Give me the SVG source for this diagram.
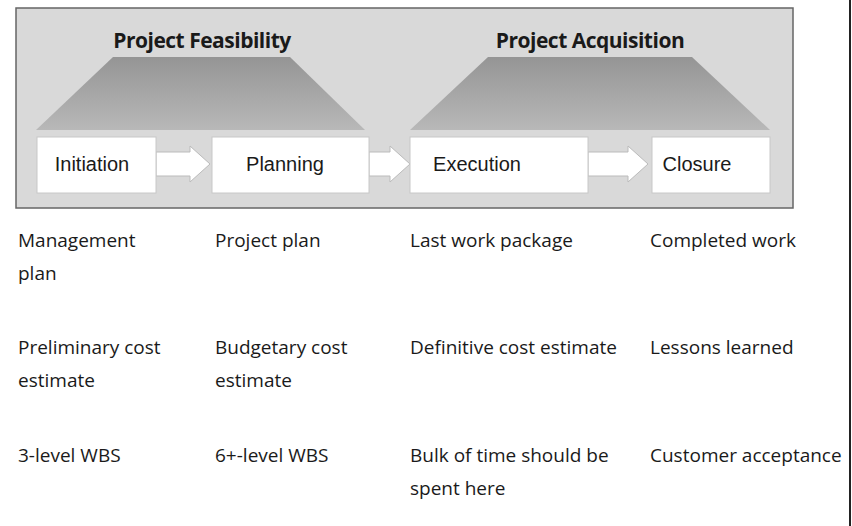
<svg xmlns="http://www.w3.org/2000/svg" width="852" height="526" viewBox="0 0 852 526">
<defs>
<linearGradient id="tg" x1="0" y1="0" x2="0" y2="1">
<stop offset="0" stop-color="#959595"/><stop offset="1" stop-color="#b8b8b8"/>
</linearGradient>
</defs>
<style>
.box{fill:#fff;stroke:#c8c8c8;stroke-width:1}
.bl{font-family:"Liberation Sans",Arial,sans-serif;font-size:20px;fill:#1a1a1a;text-anchor:middle}
.hd{font-family:"Open Sans","Noto Sans",sans-serif;font-size:21px;font-weight:bold;fill:#1a1a1a;text-anchor:middle;letter-spacing:-0.5px}
.t{font-family:"Open Sans","Noto Sans",sans-serif;font-size:19px;fill:#1a1a1a}
.arr{fill:#fff;stroke:#bbb;stroke-width:1}
</style>
<rect width="852" height="526" fill="#fff"/>
<line x1="850" y1="0" x2="850" y2="526" stroke="#222" stroke-width="2"/>
<rect x="16" y="8" width="777" height="200" fill="#d9d9d9" stroke="#666" stroke-width="1.5"/>
<g id="feasibility">
<polygon points="113,57 290,57 365,130 36,130" fill="url(#tg)"/>
<text class="hd" x="202" y="48">Project Feasibility</text>
</g>
<g id="acquisition">
<polygon points="488,57 692,57 770,130 410,130" fill="url(#tg)"/>
<text class="hd" x="590" y="48">Project Acquisition</text>
</g>
<g id="connectors">
<polygon class="arr" points="156,152 190,152 190,146 210,164 190,182 190,176 156,176"/>
<polygon class="arr" points="369,152 390,152 390,146 410,164 390,182 390,176 369,176"/>
<polygon class="arr" points="588,152 628,152 628,146 648,164 628,182 628,176 588,176"/>
</g>
<g id="initiation"><rect class="box" x="37" y="137" width="119" height="56"/><text class="bl" x="92" y="171">Initiation</text></g>
<g id="planning"><rect class="box" x="212" y="137" width="157" height="56"/><text class="bl" x="285" y="171">Planning</text></g>
<g id="execution"><rect class="box" x="410" y="137" width="178" height="56"/><text class="bl" x="477" y="171">Execution</text></g>
<g id="closure"><rect class="box" x="652" y="137" width="118" height="56"/><text class="bl" x="697" y="171">Closure</text></g>
<g id="details">
<text class="t" x="18" y="247">Management</text><text class="t" x="18" y="280">plan</text>
<text class="t" x="215" y="247">Project plan</text>
<text class="t" x="410" y="247">Last work package</text>
<text class="t" x="650" y="247">Completed work</text>
<text class="t" x="18" y="354">Preliminary cost</text><text class="t" x="18" y="387">estimate</text>
<text class="t" x="215" y="354">Budgetary cost</text><text class="t" x="215" y="387">estimate</text>
<text class="t" x="410" y="354">Definitive cost estimate</text>
<text class="t" x="650" y="354">Lessons learned</text>
<text class="t" x="18" y="462">3-level WBS</text>
<text class="t" x="215" y="462">6+-level WBS</text>
<text class="t" x="410" y="462">Bulk of time should be</text><text class="t" x="410" y="495">spent here</text>
<text class="t" x="650" y="462">Customer acceptance</text>
</g>
</svg>
